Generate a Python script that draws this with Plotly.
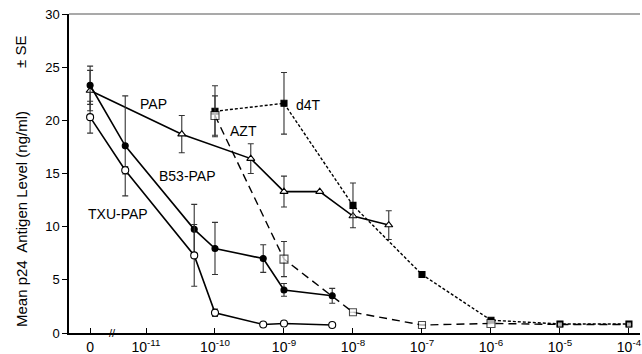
import math
import plotly.graph_objects as go

# ---------------- data ----------------
PAP_dose = [0, 3.3e-11, 3.3e-10, 1e-9, 3.3e-9, 1e-8, 3.3e-8]
PAP_val = [22.8, 18.7, 16.4, 13.3, 13.3, 11.0, 10.15]
PAP_err = [1.9, 1.75, 1.4, 1.45, None, None, 1.35]

B53_dose = [0, 5e-12, 5e-11, 1e-10, 5e-10, 1e-9, 5e-9]
B53_val = [23.3, 17.6, 9.75, 7.95, 7.0, 4.05, 3.5]
B53_err = [1.8, 4.7, 2.35, 2.45, 1.3, 0.6, 0.7]

TXU_dose = [0, 5e-12, 5e-11, 1e-10, 5e-10, 1e-9, 5e-9]
TXU_val = [20.3, 15.3, 7.3, 1.9, 0.8, 0.9, 0.75]
TXU_err = [1.5, 0.35, 2.9, 0.35, None, None, None]

AZT_dose = [1e-10, 1e-9, 1e-8, 1e-7, 1e-6, 1e-5, 1e-4]
AZT_val = [20.45, 6.95, 1.95, 0.75, 0.9, 0.8, 0.8]
AZT_err = [1.85, 1.65, None, None, None, None, None]

D4T_dose = [1e-10, 1e-9, 1e-8, 1e-7, 1e-6, 1e-5, 1e-4]
D4T_val = [20.85, 21.6, 12.0, 5.5, 1.2, 0.85, 0.85]
D4T_err = [2.4, 2.9, 2.1, None, None, None, None]

tick_doses = [0, 1e-11, 1e-10, 1e-9, 1e-8, 1e-7, 1e-6, 1e-5, 1e-4]
y_ticks = [0, 5, 10, 15, 20, 25, 30]

# position used for the zero-dose point on the broken log axis
ZERO_POS = -11.81


def pos(d):
    return ZERO_POS if d == 0 else math.log10(d)


def tick_label(d):
    if d == 0:
        return "0"
    return "10<sup>%d</sup>" % round(math.log10(d))


FONT = "Liberation Sans, Arial, sans-serif"
fig = go.Figure()


def add(dose, val, err, dash, symbol, size, fill, width=1.6):
    fig.add_trace(go.Scatter(
        x=[pos(d) for d in dose], y=val,
        mode="lines+markers",
        line=dict(color="black", width=width, dash=dash),
        marker=dict(symbol=symbol, size=size, color=fill,
                    line=dict(color="black", width=1.1)),
        error_y=dict(type="data", array=err, visible=True,
                     color="#333333", thickness=1.1, width=3),
        showlegend=False, cliponaxis=False, hoverinfo="skip",
    ))


add(PAP_dose, PAP_val, PAP_err, "solid", "triangle-up", 7, "white")
add(B53_dose, B53_val, B53_err, "solid", "circle", 6, "black")
add(TXU_dose, TXU_val, TXU_err, "solid", "circle", 7, "white")
add(D4T_dose, D4T_val, D4T_err, "3px,2px", "square", 6, "black", 1.4)
add(AZT_dose, AZT_val, AZT_err, "8px,5px", "square", [8, 8, 7, 7, 8, 5, 5], "white", 1.4)

# series labels
labels = [("PAP", 3.3e-11 / 2.6, 21.5), ("B53-PAP", 5e-11 * 0.81, 14.8),
          ("TXU-PAP", 3.9e-12, 11.2), ("AZT", 2.55e-10, 19.0), ("d4T", 2.25e-9, 21.45)]
for txt, d, v in labels:
    fig.add_annotation(x=pos(d), y=v, text=txt, showarrow=False,
                       font=dict(family=FONT, size=14, color="black"),
                       xanchor="center", yanchor="middle")

# axis break mark
fig.add_annotation(x=-11.48, y=0, text="//", showarrow=False,
                   font=dict(family=FONT, size=11, color="black"),
                   xanchor="center", yanchor="middle")

# y axis title (two parts)
fig.add_annotation(xref="paper", yref="paper", x=(21 - 69) / 571, y=(333 - 219) / 319,
                   text="Mean p24\u00a0 Antigen Level (ng/ml)", textangle=-90,
                   showarrow=False, font=dict(family=FONT, size=15, color="black"),
                   xanchor="center", yanchor="middle")
fig.add_annotation(xref="paper", yref="paper", x=(21 - 69) / 571, y=(333 - 52) / 319,
                   text="\u00b1 SE", textangle=-90,
                   showarrow=False, font=dict(family=FONT, size=15, color="black"),
                   xanchor="center", yanchor="middle")

# top frame line
fig.add_shape(type="line", xref="paper", yref="paper", x0=0, x1=1, y0=1, y1=1,
              line=dict(color="#555555", width=1.2))

fig.update_layout(
    width=642, height=354,
    margin=dict(l=69, r=2, t=14, b=21, autoexpand=False),
    paper_bgcolor="white", plot_bgcolor="white",
    font=dict(family=FONT, size=12, color="black"),
    hovermode=False,
    xaxis=dict(range=[-12.116, -3.84], showgrid=False, zeroline=False,
               automargin=False,
               tickmode="array", tickvals=[pos(d) for d in tick_doses],
               ticktext=[tick_label(d) for d in tick_doses],
               ticks="inside", ticklen=5, tickcolor="black",
               showline=True, linecolor="black", linewidth=1.5,
               tickfont=dict(family=FONT, size=14)),
    yaxis=dict(range=[0, 30], showgrid=False, zeroline=False,
               automargin=False,
               tickmode="array", tickvals=y_ticks,
               ticks="outside", ticklen=5, tickcolor="black",
               showline=True, linecolor="black", linewidth=1.5,
               tickfont=dict(family=FONT, size=13)),
)

# remove the default page margin so the figure sits at the window's top-left
fig.write_html("out.html", config={"displayModeBar": False},
               post_script="document.body.style.margin='0';")
